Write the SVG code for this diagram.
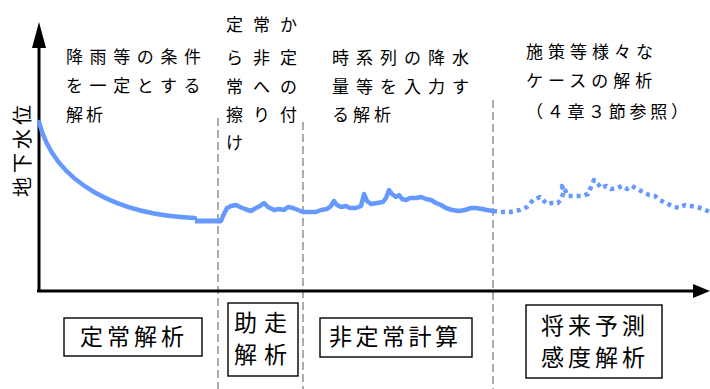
<svg xmlns="http://www.w3.org/2000/svg" width="710" height="389" viewBox="0 0 710 389">
<defs>
<style>
.t{font-family:"Noto Sans CJK JP","Noto Sans CJK SC",sans-serif;font-size:17px;fill:#000}
.b{font-family:"Noto Sans CJK JP","Noto Sans CJK SC",sans-serif;font-size:23px;fill:#000}
.box{fill:#fff;stroke:#000;stroke-width:1.4}
.div{stroke:#808080;stroke-width:1.3;stroke-dasharray:8 4;fill:none}
.gw{fill:none;stroke:#6699ff;stroke-width:4.5;stroke-linejoin:round;stroke-linecap:round}
.ax{stroke:#000;stroke-width:3;fill:none}
</style>
</defs>
<rect width="710" height="389" fill="#fff"/>
<g id="dividers">
<line class="div" x1="218" y1="118" x2="218" y2="389"/>
<line class="div" x1="303" y1="122" x2="303" y2="389"/>
<line class="div" x1="493" y1="100" x2="493" y2="389"/>
</g>
<g id="axes">
<line class="ax" x1="39" y1="291" x2="39" y2="46"/>
<polygon points="39,22 32,48 46,48" fill="#000"/>
<line class="ax" x1="37" y1="291" x2="696" y2="291"/>
<polygon points="710,291 693,284 693,298" fill="#000"/>
<text class="t" transform="translate(30,151) rotate(-90)" x="2" y="0" text-anchor="middle" style="font-size:20px;letter-spacing:4px">地下水位</text>
</g>
<g id="curves">
<path class="gw" d="M39,122 C55,185 120,215 195,218"/>
<path d="M195,221 H221" stroke="#6699ff" stroke-width="5" fill="none"/>
<path class="gw" d="M221,221 L223,216 227,208 231,206 236,205 240,207 245,209 251,211 256,208 260,206 264,203 268,207 274,210 279,209 284,210 288,207 293,208 298,210 303,212 310,212 316,212 321,210 327,209 331,206 334,201 337,205 341,207 346,206 350,208 356,208 361,206 364,194 367,201 371,204 377,203 383,202 386,198 389,190 392,194 396,197 399,195 402,199 406,200 410,198 416,198 421,197 426,199 431,200 436,203 441,205 446,208 452,210 459,211 465,210 471,208 476,208 482,209 487,210 493,211"/>
<path class="gw" style="stroke-dasharray:4 4;stroke-linecap:butt" d="M493,211 L500,212 510,212 520,210 527,207 533,200 540,197 544,201 547,204 552,203 558,203 561,199 564,192 562,186 565,190 568,196 575,196 582,196 588,194 591,187 594,180 598,184 601,188 606,186 611,189 617,188 622,186 627,189 632,186 637,189 643,192 649,195 655,196 660,200 666,203 672,206 679,208 685,205 691,206 697,207 703,209 710,212"/>
</g>
<g id="label-steady">
<text class="t" x="66" y="63" style="letter-spacing:6.6px">降雨等の条件</text>
<text class="t" x="66" y="92" style="letter-spacing:6.6px">を一定とする</text>
<text class="t" x="66" y="121" style="letter-spacing:3px">解析</text>
</g>
<g id="label-transition">
<text class="t" x="226" y="31" style="letter-spacing:10px">定常か</text>
<text class="t" x="226" y="64" style="letter-spacing:10px">ら非定</text>
<text class="t" x="226" y="93" style="letter-spacing:10px">常への</text>
<text class="t" x="226" y="121" style="letter-spacing:10px">擦り付</text>
<text class="t" x="226" y="149" style="letter-spacing:10px">け</text>
</g>
<g id="label-unsteady">
<text class="t" x="332" y="64" style="letter-spacing:7px">時系列の降水</text>
<text class="t" x="332" y="93" style="letter-spacing:7px">量等を入力す</text>
<text class="t" x="332" y="121" style="letter-spacing:4px">る解析</text>
</g>
<g id="label-future">
<text class="t" x="526" y="58" style="letter-spacing:5px">施策等様々な</text>
<text class="t" x="526" y="87" style="letter-spacing:5px">ケースの解析</text>
<text class="t" x="526" y="118" style="letter-spacing:3.7px">（４章３節参照）</text>
</g>
<g id="box-steady">
<rect class="box" x="64" y="318" width="138" height="38"/>
<text class="b" x="80" y="345" style="letter-spacing:4px">定常解析</text>
</g>
<g id="box-runup">
<rect class="box" x="228" y="303" width="70" height="73"/>
<text class="b" x="234" y="331" style="letter-spacing:7px">助走</text>
<text class="b" x="234" y="363" style="letter-spacing:7px">解析</text>
</g>
<g id="box-unsteady">
<rect class="box" x="320" y="318" width="152" height="39"/>
<text class="b" x="329" y="345" style="letter-spacing:3.5px">非定常計算</text>
</g>
<g id="box-future">
<rect class="box" x="526" y="305" width="136" height="73"/>
<text class="b" x="541" y="334" style="letter-spacing:4px">将来予測</text>
<text class="b" x="541" y="366" style="letter-spacing:4px">感度解析</text>
</g>
</svg>
